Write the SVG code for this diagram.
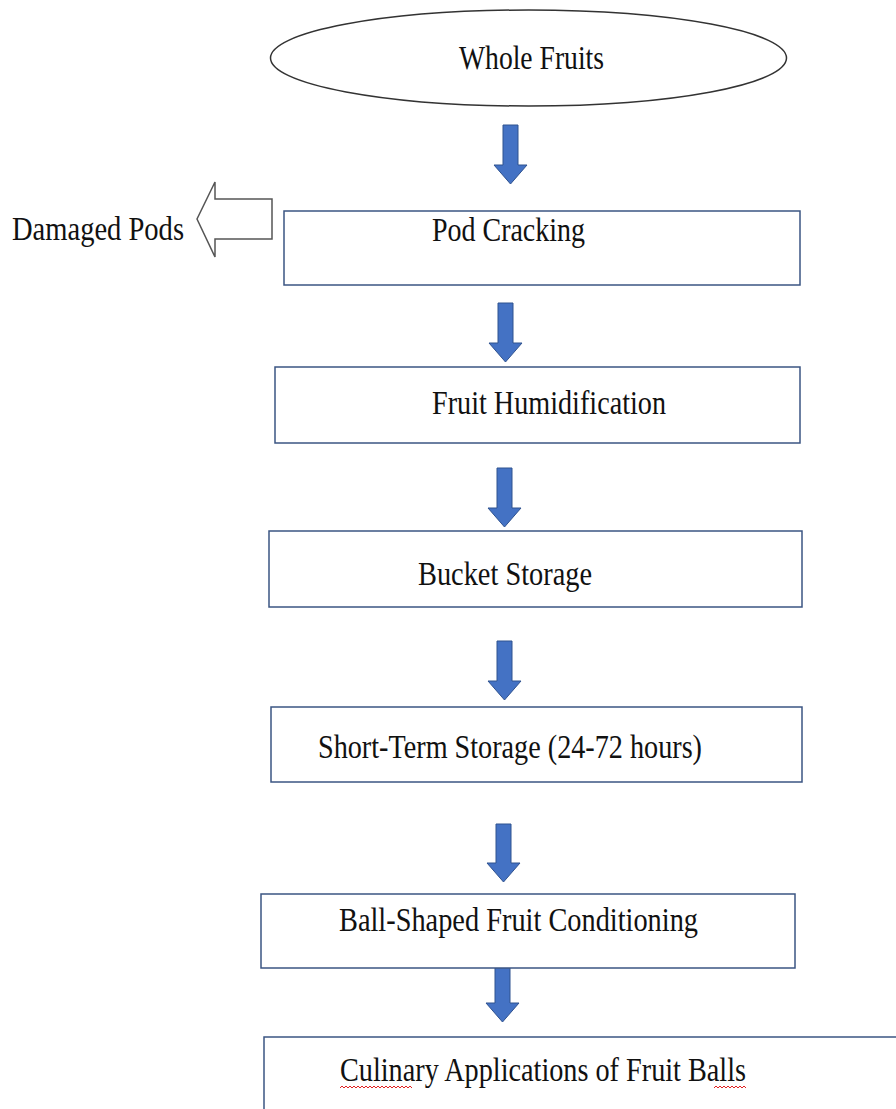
<svg xmlns="http://www.w3.org/2000/svg" width="896" height="1109" viewBox="0 0 896 1109">
<style>
.box{fill:#fff;stroke:#3b5583;stroke-width:1.5}
.t{font-family:"Liberation Serif","Times New Roman",serif;font-size:33px;fill:#111}
.arr{fill:#4472c4;stroke:#2f528f;stroke-width:1}
.sq{fill:none;stroke:#e02020;stroke-width:1}
</style>
<rect width="896" height="1109" fill="#fff"/>
<g id="connectors">
<path class="arr" d="M503,125 h15 v40 h9 l-16.5,19 l-16.5,-19 h9 z"/>
<path class="arr" d="M498,303 h15 v40 h9 l-16.5,19 l-16.5,-19 h9 z"/>
<path class="arr" d="M497,468 h15 v40 h9 l-16.5,19 l-16.5,-19 h9 z"/>
<path class="arr" d="M497,641 h15 v40 h9 l-16.5,19 l-16.5,-19 h9 z"/>
<path class="arr" d="M496,824 h15 v39 h9 l-16.5,19 l-16.5,-19 h9 z"/>
<path class="arr" d="M495,963 h15 v40 h9 l-16.5,19 l-16.5,-19 h9 z"/>
<path d="M272,199 H215 V182 L197,219 L215,257 V239 H272 Z" fill="#fff" stroke="#555" stroke-width="1.5"/>
</g>
<g id="whole-fruits">
<ellipse cx="528.5" cy="58" rx="258" ry="48" fill="#fff" stroke="#333" stroke-width="1.5"/>
<text class="t" x="459" y="69" textLength="145" lengthAdjust="spacingAndGlyphs">Whole Fruits</text>
</g>
<g id="damaged-pods">
<text class="t" x="12" y="240" textLength="172" lengthAdjust="spacingAndGlyphs">Damaged Pods</text>
</g>
<g id="pod-cracking">
<rect class="box" x="284" y="211" width="516" height="74"/>
<text class="t" x="432" y="241" textLength="153" lengthAdjust="spacingAndGlyphs">Pod Cracking</text>
</g>
<g id="fruit-humidification">
<rect class="box" x="275" y="367" width="525" height="76"/>
<text class="t" x="432" y="414" textLength="234" lengthAdjust="spacingAndGlyphs">Fruit Humidification</text>
</g>
<g id="bucket-storage">
<rect class="box" x="269" y="531" width="533" height="76"/>
<text class="t" x="418" y="585" textLength="174" lengthAdjust="spacingAndGlyphs">Bucket Storage</text>
</g>
<g id="short-term-storage">
<rect class="box" x="271" y="707" width="531" height="75"/>
<text class="t" x="318" y="758" textLength="384" lengthAdjust="spacingAndGlyphs">Short-Term Storage (24-72 hours)</text>
</g>
<g id="ball-shaped">
<rect class="box" x="261" y="894" width="534" height="74"/>
<text class="t" x="339" y="931" textLength="359" lengthAdjust="spacingAndGlyphs">Ball-Shaped Fruit Conditioning</text>
</g>
<g id="culinary">
<rect class="box" x="264" y="1037" width="700" height="120"/>
<text class="t" x="340" y="1081" textLength="406" lengthAdjust="spacingAndGlyphs">Culinary Applications of Fruit Balls</text>
<path class="sq" d="M340,1088 l2,-2 l2,2 l2,-2 l2,2 l2,-2 l2,2 l2,-2 l2,2 l2,-2 l2,2 l2,-2 l2,2 l2,-2 l2,2 l2,-2 l2,2 l2,-2 l2,2 l2,-2 l2,2 l2,-2 l2,2 l2,-2 l2,2 l2,-2 l2,2 l2,-2 l2,2 l2,-2 l2,2 l2,-2 l2,2 l2,-2 l2,2 l2,-2 l2,2"/>
<path class="sq" d="M714,1088 l2,-2 l2,2 l2,-2 l2,2 l2,-2 l2,2 l2,-2 l2,2 l2,-2 l2,2 l2,-2 l2,2 l2,-2 l2,2 l2,-2 l2,2"/>
</g>
</svg>
